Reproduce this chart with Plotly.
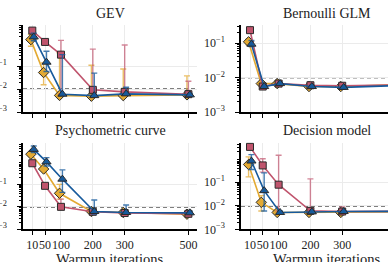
import plotly.graph_objects as go

# ---------------- data ----------------
warmup = [10, 50, 100, 200, 300, 500]
x_ticks = [10, 50, 100, 200, 300, 500]
x_tick_labels = ["10", "50", "100", "200", "300", "500"]
y_ticks = [0.001, 0.01, 0.1]
y_tick_labels = ["10<sup>−3</sup>", "10<sup>−2</sup>", "10<sup>−1</sup>"]
threshold = 0.01
panel_titles = ["GEV", "Bernoulli GLM", "Psychometric curve", "Decision model"]
x_title = "Warmup iterations"

# GEV
gev_red = [3.6, 1.15, 0.32, 0.0093, 0.0076, 0.006]
gev_red_hi = [3.9, 1.3, 1.35, 0.56, 0.85, 0.022]
gev_red_lo = [3.3, 1.0, 0.006, 0.008, 0.007, 0.0055]
gev_yel = [1.45, 0.053, 0.0053, 0.0049, 0.0052, 0.0056]
gev_yel_hi = [2.4, 0.14, 0.39, 0.11, 0.075, 0.038]
gev_yel_lo = [0.74, 0.0155, 0.0045, 0.0044, 0.0046, 0.005]
gev_blu = [1.9, 0.15, 0.006, 0.0052, 0.0062, 0.0056]
gev_blu_hi = [2.8, 0.45, 0.32, 0.05, 0.012, 0.0065]
gev_blu_lo = [1.3, 0.059, 0.0052, 0.0046, 0.0055, 0.005]

# Bernoulli GLM
glm_red = [0.24, 0.0055, 0.0067, 0.006, 0.0058, 0.0062]
glm_red_hi = [0.26, 0.006, 0.0073, 0.0065, 0.0063, 0.0067]
glm_red_lo = [0.22, 0.005, 0.0061, 0.0055, 0.0053, 0.0057]
glm_yel = [0.11, 0.0067, 0.0067, 0.0055, 0.0055, 0.0063]
glm_yel_hi = [0.13, 0.0073, 0.0073, 0.006, 0.006, 0.0068]
glm_yel_lo = [0.09, 0.0061, 0.0061, 0.005, 0.005, 0.0058]
glm_blu = [0.094, 0.0055, 0.0067, 0.0055, 0.0052, 0.006]
glm_blu_hi = [0.12, 0.006, 0.0073, 0.006, 0.0057, 0.0065]
glm_blu_lo = [0.08, 0.005, 0.0061, 0.005, 0.0047, 0.0055]

# Psychometric curve
psy_red = [0.87, 0.086, 0.01, 0.006, 0.0053, 0.0049]
psy_red_hi = [0.95, 0.095, 0.022, 0.0068, 0.0065, 0.0053]
psy_red_lo = [0.8, 0.078, 0.0085, 0.0055, 0.0048, 0.0045]
psy_yel = [2.2, 0.48, 0.04, 0.0062, 0.0056, 0.0047]
psy_yel_hi = [2.6, 0.6, 0.1, 0.007, 0.0065, 0.0052]
psy_yel_lo = [1.9, 0.4, 0.022, 0.0055, 0.005, 0.0043]
psy_blu = [3.6, 1.0, 0.17, 0.0062, 0.0056, 0.0054]
psy_blu_hi = [5.1, 1.55, 0.44, 0.02, 0.012, 0.0062]
psy_blu_lo = [2.6, 0.66, 0.044, 0.0048, 0.0048, 0.0048]

# Decision model
dec_red = [3.2, 0.52, 0.079, 0.0061, 0.0057, 0.0058]
dec_red_hi = [3.4, 1.0, 1.4, 0.14, 0.009, 0.0062]
dec_red_lo = [3.0, 0.27, 0.006, 0.005, 0.005, 0.0054]
dec_yel = [0.57, 0.014, 0.0052, 0.0052, 0.0052, 0.0055]
dec_yel_hi = [1.2, 0.027, 0.0058, 0.0058, 0.0058, 0.006]
dec_yel_lo = [0.17, 0.006, 0.0047, 0.0047, 0.0047, 0.005]
dec_blu = [0.8, 0.044, 0.0052, 0.0055, 0.0057, 0.0058]
dec_blu_hi = [1.5, 0.25, 0.006, 0.006, 0.0062, 0.0062]
dec_blu_lo = [0.35, 0.006, 0.0048, 0.005, 0.0052, 0.0054]

panels = [
    [(gev_yel, gev_yel_hi, gev_yel_lo), (gev_red, gev_red_hi, gev_red_lo), (gev_blu, gev_blu_hi, gev_blu_lo)],
    [(glm_yel, glm_yel_hi, glm_yel_lo), (glm_red, glm_red_hi, glm_red_lo), (glm_blu, glm_blu_hi, glm_blu_lo)],
    [(psy_yel, psy_yel_hi, psy_yel_lo), (psy_red, psy_red_hi, psy_red_lo), (psy_blu, psy_blu_hi, psy_blu_lo)],
    [(dec_yel, dec_yel_hi, dec_yel_lo), (dec_red, dec_red_hi, dec_red_lo), (dec_blu, dec_blu_hi, dec_blu_lo)],
]

# ---------------- style ----------------
W, H = 388, 262
FONT = "Liberation Serif"
colors = ["#E3AA33", "#C0546D", "#175A9C"]
err_colors = ["rgba(227,170,51,0.75)", "rgba(192,84,109,0.7)", "rgba(23,90,156,0.8)"]
symbols = ["diamond", "square", "triangle-up"]
msizes = [8, 7, 8]
dodge = [-4.5, 0, 4.5]

# pixel layout
col_x = [(23, 197), (241, 388)]
row_y = [(25, 112), (143, 229.3)]
x_ranges = [[-19.2, 527], [-18.3, 444]]
y_ranges = [[-3, 0.8], [-3, -0.47], [-3, 0.84], [-3, 0.67]]
col_centers = [110, 327]
title_y = [13, 130]

minor_vals = [k * 10 ** e for e in range(-3, 1) for k in range(2, 10)]

fig = go.Figure()

for p in range(4):
    r, c = divmod(p, 2)
    suffix = "" if p == 0 else str(p + 1)
    for s, (vals, hi, lo) in enumerate(panels[p]):
        fig.add_trace(go.Scatter(
            x=[w + dodge[s] for w in warmup],
            y=vals,
            xaxis="x" + suffix, yaxis="y" + suffix,
            mode="lines+markers",
            line=dict(color=colors[s], width=1.6),
            marker=dict(symbol=symbols[s], size=msizes[s], color=colors[s],
                        line=dict(color="#2a2a2a", width=1)),
            error_y=dict(type="data", symmetric=False,
                         array=[h - v for h, v in zip(hi, vals)],
                         arrayminus=[v - l for v, l in zip(vals, lo)],
                         color=err_colors[s], thickness=1.4, width=3),
            showlegend=False, cliponaxis=False,
        ))
    x0, x1 = col_x[c]
    yt, yb = row_y[r]
    fig.update_layout({
        "xaxis" + suffix: dict(
            domain=[x0 / W, x1 / W], range=x_ranges[c], anchor="y" + suffix,
            tickmode="array", tickvals=x_ticks, ticktext=x_tick_labels,
            showticklabels=(r == 1), tickangle=0,
            ticks="outside", ticklen=4, tickwidth=1,
            tickcolor="black", showline=True, linecolor="black", linewidth=1.5,
            showgrid=True, gridcolor="#ebebeb", gridwidth=1, zeroline=False,
            tickfont=dict(family=FONT, size=12, color="#222"),
        ),
        "yaxis" + suffix: dict(
            domain=[(H - yb) / H, (H - yt) / H], type="log", range=y_ranges[p],
            anchor="x" + suffix,
            tickmode="array", tickvals=y_ticks, ticktext=y_tick_labels,
            ticks="outside", ticklen=4, tickwidth=1, tickcolor="black",
            showline=True, linecolor="black", linewidth=1.5,
            showgrid=True, gridcolor="#ebebeb", gridwidth=1, zeroline=False,
            ticklabelstandoff=8,
            minor=dict(tickvals=minor_vals, ticks="outside", ticklen=2.5,
                       tickwidth=0.8, tickcolor="black", showgrid=False),
            tickfont=dict(family=FONT, size=12, color="#222"),
        ),
    })
    fig.add_shape(type="line", xref="x" + suffix + " domain", yref="y" + suffix,
                  x0=0, x1=1, y0=threshold, y1=threshold,
                  line=dict(color="black", width=1.2, dash="4px,3px"), layer="below")
    fig.add_annotation(text=panel_titles[p], xref="paper", yref="paper",
                       x=col_centers[c] / W, y=(H - title_y[r]) / H,
                       xanchor="center", yanchor="middle", showarrow=False,
                       font=dict(family=FONT, size=14, color="#222"))

for c in range(2):
    fig.add_annotation(text=x_title, xref="paper", yref="paper",
                       x=col_centers[c] / W, y=(H - 259) / H,
                       xanchor="center", yanchor="middle", showarrow=False,
                       font=dict(family=FONT, size=14.5, color="#222"))

fig.update_layout(
    width=W, height=H,
    margin=dict(l=0, r=0, t=0, b=0, autoexpand=False),
    paper_bgcolor="white", plot_bgcolor="white",
    font=dict(family=FONT, color="#222"),
)

fig.write_html("out.html", config={"displayModeBar": False},
               post_script="document.body.style.margin='0';document.body.style.overflow='hidden';")
